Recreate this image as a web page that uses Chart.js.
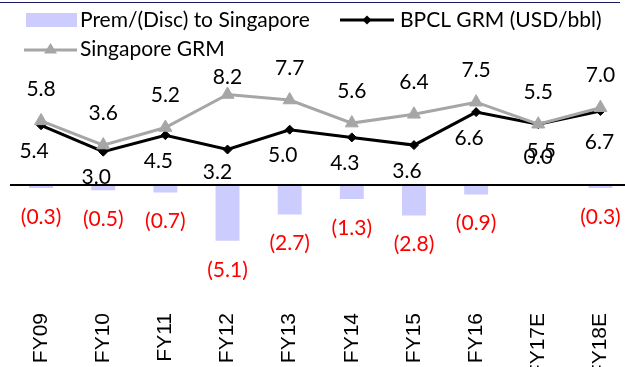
<!DOCTYPE html>
<html>
<head>
<meta charset="utf-8">
<script src="https://cdn.jsdelivr.net/npm/chart.js@4/dist/chart.umd.min.js"></script>
<style>
  html, body { margin: 0; padding: 0; background: #fff; overflow: hidden; width: 625px; height: 367px; }
  #wrap { position: absolute; left: 0; top: 0; width: 640px; height: 400px; }
  #topline { position: absolute; left: 0; top: 2px; width: 620px; height: 0; border-top: 1.5px solid #1c1c5e; z-index: 2; }
  canvas { position: absolute; left: 0; top: 0; }
</style>
</head>
<body>
<div id="topline"></div>
<div id="wrap"><canvas id="c" width="640" height="400"></canvas></div>
<script>
// ---- data ----
const categories = ['FY09', 'FY10', 'FY11', 'FY12', 'FY13', 'FY14', 'FY15', 'FY16', 'FY17E', 'FY18E'];
const premDisc = [-0.3, -0.5, -0.7, -5.1, -2.7, -1.3, -2.8, -0.9, 0.0, -0.3];
const bpclGrm = [5.4, 3.0, 4.5, 3.2, 5.0, 4.3, 3.6, 6.6, 5.5, 6.7];
const singaporeGrm = [5.8, 3.6, 5.2, 8.2, 7.7, 5.6, 6.4, 7.5, 5.5, 7.0];
const seriesNames = ['Prem/(Disc) to Singapore', 'BPCL GRM (USD/bbl)', 'Singapore GRM'];
const yMin = -10, yMax = 10;

// ---- styles ----
const BAR_COLOR = '#CCCCFF';
const BPCL_COLOR = '#000000';
const SING_COLOR = '#A6A6A6';
const LABEL_FONT = '21px Lato';
const LEGEND_FONT = '21px Lato';

// label nudges (pixels) for individual points
const singNudge = { 3: [0, 15] };
const bpclNudge = { 3: [-3, -3], 8: [10, 1], 9: [6, 5] };

function fmtPrem(v) {
  return v < 0 ? '(' + Math.abs(v).toFixed(1) + ')' : v.toFixed(1);
}

const labelsPlugin = {
  id: 'valueLabels',
  afterDatasetsDraw(chart) {
    const ctx = chart.ctx;
    ctx.save();
    ctx.font = LABEL_FONT;
    ctx.textAlign = 'center';
    ctx.textBaseline = 'middle';
    chart.data.datasets.forEach((ds, di) => {
      const meta = chart.getDatasetMeta(di);
      meta.data.forEach((el, i) => {
        const v = ds.data[i];
        if (ds.kind === 'bar') {
          ctx.fillStyle = v < 0 ? '#FF0000' : '#000000';
          const y = v < 0 ? el.y + 29 : el.y - 27;
          ctx.fillText(fmtPrem(v), el.x, y);
        } else if (ds.kind === 'sing') {
          const n = singNudge[i] || [0, 0];
          ctx.fillStyle = '#000';
          ctx.fillText(v.toFixed(1), el.x + n[0], el.y - 32 + n[1]);
        } else {
          const n = bpclNudge[i] || [0, 0];
          ctx.fillStyle = '#000';
          ctx.fillText(v.toFixed(1), el.x - 7 + n[0], el.y + 26 + n[1]);
        }
      });
    });
    // zero line
    const ys = chart.scales.y;
    const y0 = Math.round(ys.getPixelForValue(0));
    ctx.strokeStyle = '#000';
    ctx.lineWidth = 2;
    ctx.beginPath();
    ctx.moveTo(chart.chartArea.left, y0);
    ctx.lineTo(chart.chartArea.right, y0);
    ctx.stroke();
    ctx.restore();
  }
};

const legendPlugin = {
  id: 'customLegend',
  afterDraw(chart) {
    const ctx = chart.ctx;
    ctx.save();
    ctx.font = LEGEND_FONT;
    ctx.textBaseline = 'middle';
    ctx.textAlign = 'left';
    // bar swatch
    ctx.fillStyle = BAR_COLOR;
    ctx.fillRect(26, 13, 51, 14);
    ctx.fillStyle = '#000';
    ctx.fillText(seriesNames[0], 80, 20);
    // BPCL line + diamond
    ctx.strokeStyle = BPCL_COLOR;
    ctx.lineWidth = 3;
    ctx.beginPath(); ctx.moveTo(340, 20); ctx.lineTo(394, 20); ctx.stroke();
    ctx.fillStyle = BPCL_COLOR;
    ctx.beginPath(); ctx.moveTo(367, 15.5); ctx.lineTo(371.5, 20); ctx.lineTo(367, 24.5); ctx.lineTo(362.5, 20); ctx.closePath(); ctx.fill();
    ctx.fillText(seriesNames[1], 400, 20);
    // Singapore line + triangle
    ctx.strokeStyle = SING_COLOR;
    ctx.beginPath(); ctx.moveTo(24, 50); ctx.lineTo(77, 50); ctx.stroke();
    ctx.fillStyle = SING_COLOR;
    ctx.beginPath(); ctx.moveTo(50.5, 43); ctx.lineTo(57, 53.5); ctx.lineTo(44, 53.5); ctx.closePath(); ctx.fill();
    ctx.fillStyle = '#000';
    ctx.fillText(seriesNames[2], 80, 49);
    ctx.restore();
  }
};

const CANVAS_H = 400;
const AREA_BOTTOM = 294.7;

new Chart(document.getElementById('c'), {
  type: 'bar',
  data: {
    labels: categories,
    datasets: [
      {
        kind: 'sing', type: 'line', label: seriesNames[2], data: singaporeGrm, order: 0,
        borderColor: SING_COLOR, borderWidth: 3, tension: 0,
        pointStyle: 'triangle', pointRadius: 7.5, pointBackgroundColor: SING_COLOR,
        pointBorderColor: SING_COLOR, pointBorderWidth: 1
      },
      {
        kind: 'bpcl', type: 'line', label: seriesNames[1], data: bpclGrm, order: 1,
        borderColor: BPCL_COLOR, borderWidth: 3, tension: 0,
        pointStyle: 'rectRot', pointRadius: 4.5, pointBackgroundColor: BPCL_COLOR,
        pointBorderColor: BPCL_COLOR, pointBorderWidth: 1
      },
      {
        kind: 'bar', type: 'bar', label: seriesNames[0], data: premDisc, order: 2,
        backgroundColor: BAR_COLOR, barPercentage: 0.385, categoryPercentage: 1
      }
    ]
  },
  options: {
    responsive: false,
    animation: false,
    devicePixelRatio: 1,
    layout: { padding: { left: 10, right: 6, top: 74.7, bottom: 0 } },
    plugins: { legend: { display: false }, tooltip: { enabled: false } },
    scales: {
      x: {
        offset: true,
        grid: { display: false, drawTicks: false },
        border: { display: false },
        ticks: {
          autoSkip: false, minRotation: 90, maxRotation: 90, padding: 18.3,
          color: '#000', font: { family: 'Liberation Sans', size: 21 }
        },
        afterFit(scale) { scale.height = CANVAS_H - AREA_BOTTOM; scale.paddingLeft = 0; scale.paddingRight = 0; }
      },
      y: {
        min: yMin, max: yMax,
        grid: { display: false, drawTicks: false },
        border: { display: false },
        ticks: { display: false, stepSize: 10 },
        afterFit(scale) { scale.width = 0; }
      }
    }
  },
  plugins: [labelsPlugin, legendPlugin]
});
</script>
</body>
</html>
